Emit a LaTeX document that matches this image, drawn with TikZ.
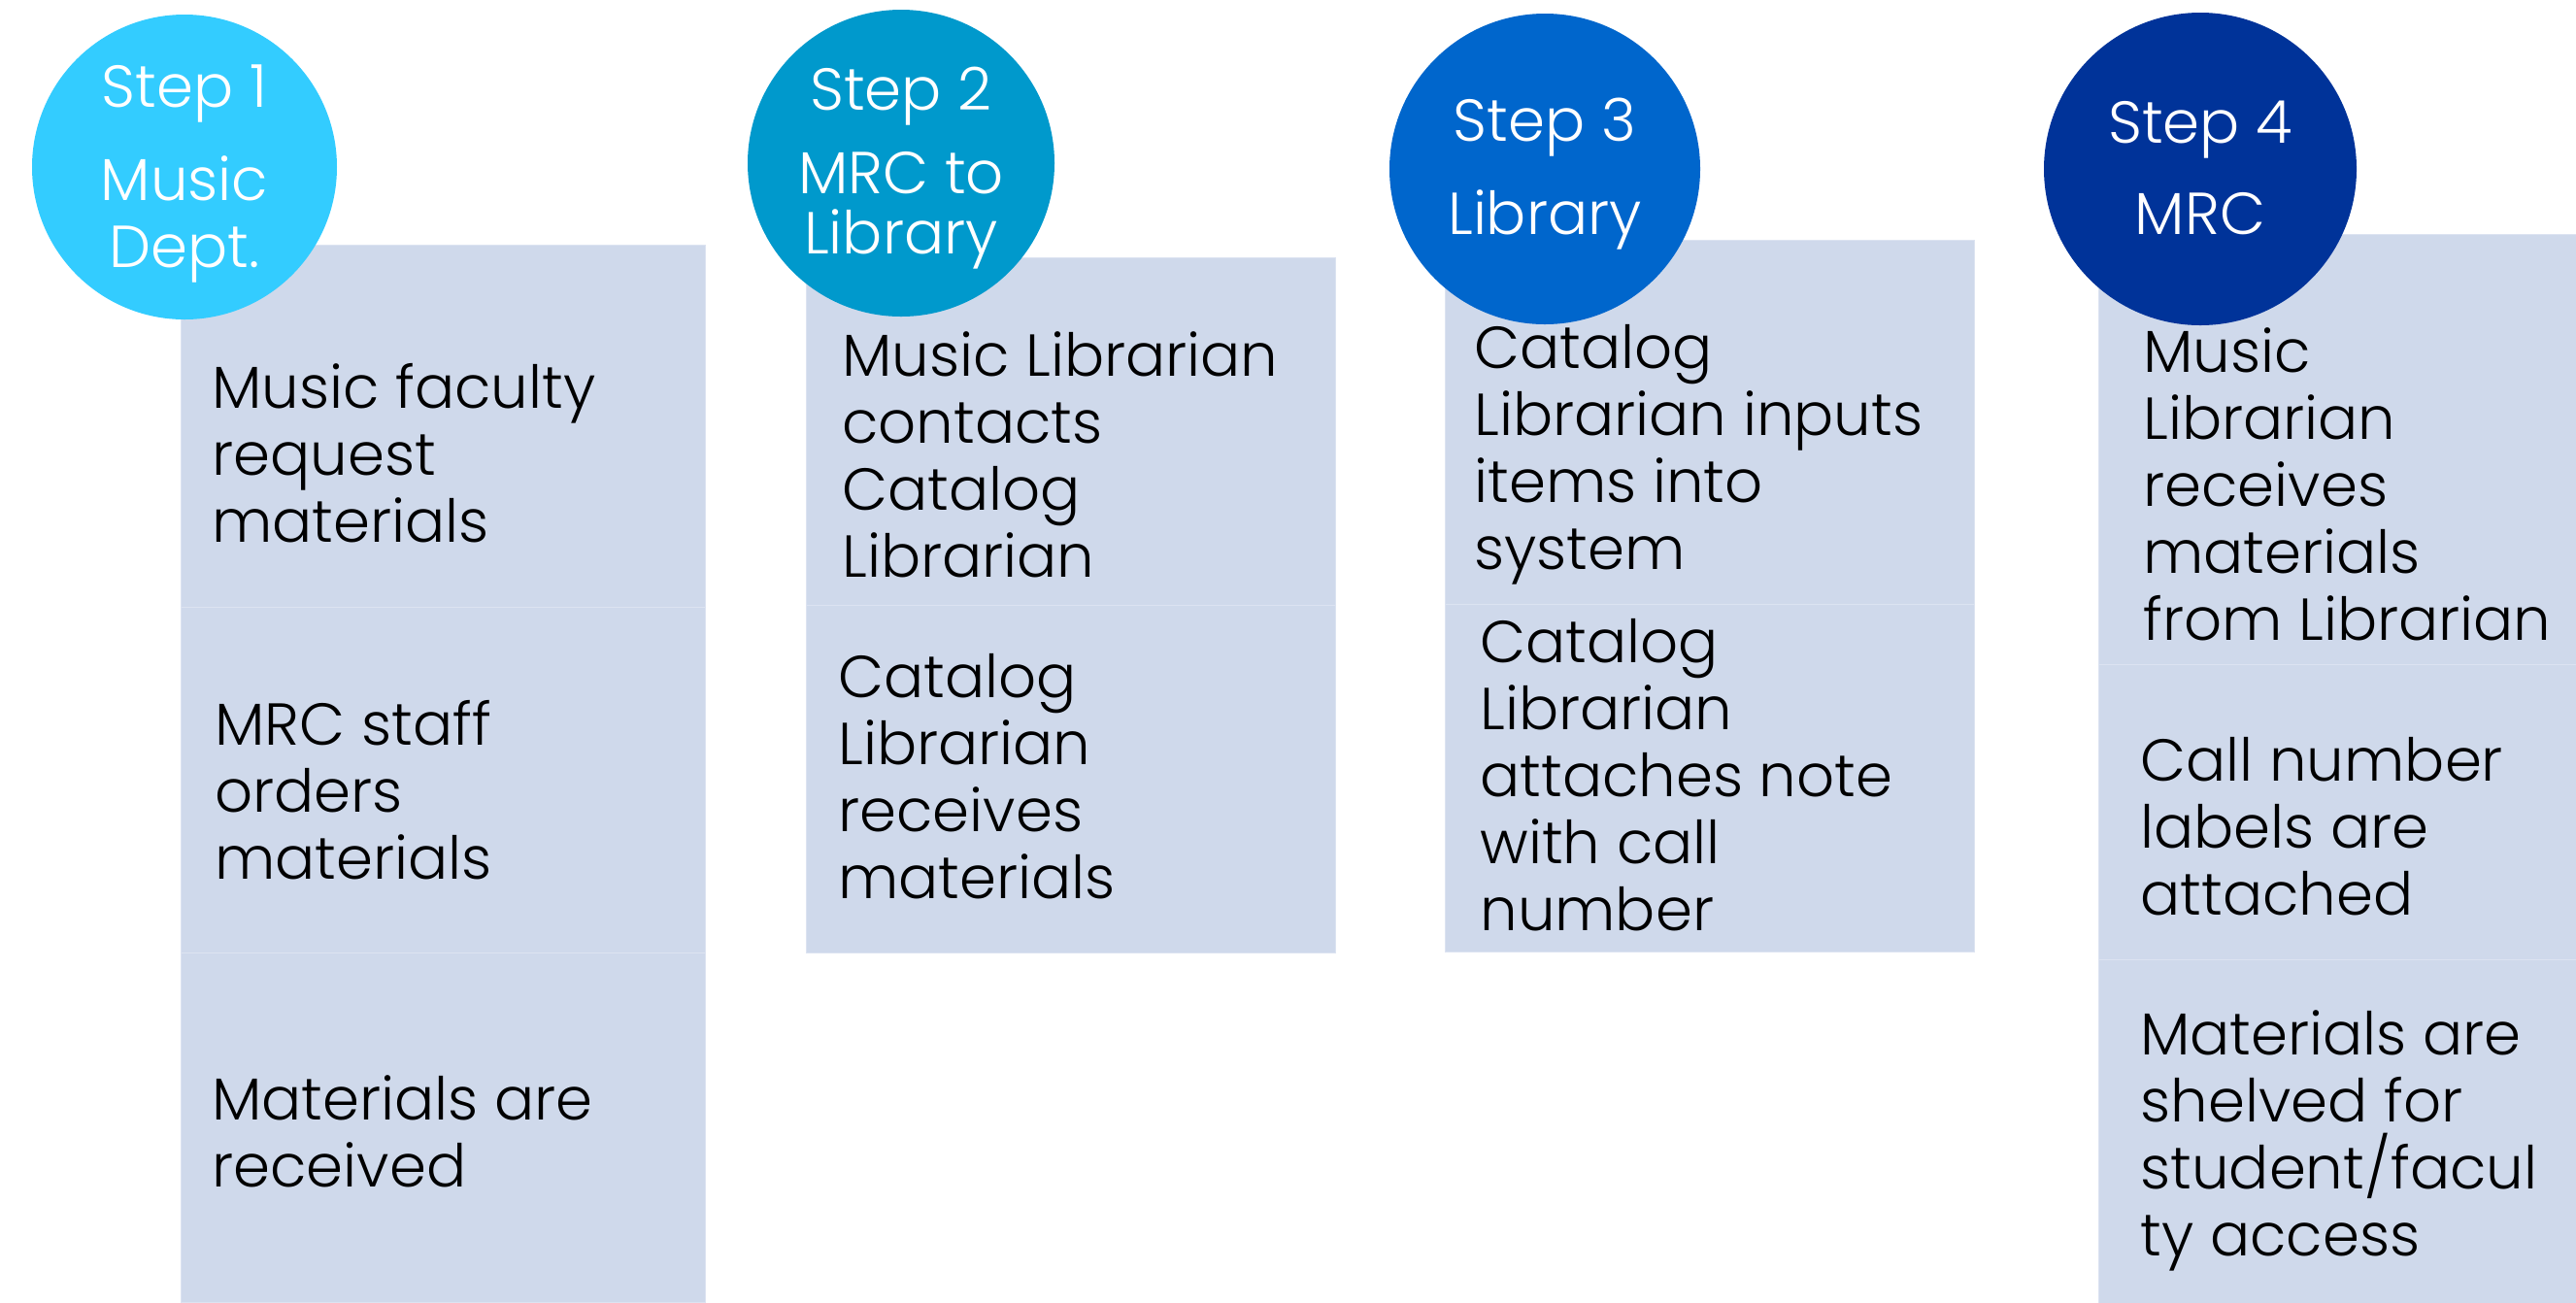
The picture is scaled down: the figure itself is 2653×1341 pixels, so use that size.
\documentclass[tikz,border=0pt]{standalone}
\usepackage{fontspec}
\setmainfont{Poppins Light}
\definecolor{cone}{HTML}{33CCFF}
\definecolor{ctwo}{HTML}{0099CC}
\definecolor{cthree}{HTML}{0066CC}
\definecolor{cfour}{HTML}{003399}
\definecolor{boxfill}{HTML}{CFD9EB}
\definecolor{boxline}{HTML}{DCE3F1}
\tikzset{
  stepbox/.style={rectangle, fill=boxfill, draw=boxline, line width=0.5pt, anchor=north west, inner sep=0pt, minimum width=#1},
  stepcircle/.style={circle, inner sep=0pt, minimum size=#1},
  bodytext/.style={anchor=base west, align=left, inner sep=0pt, text=black, font=\fontsize{30.5}{34.5}\selectfont},
  circtext/.style={anchor=base, align=center, inner sep=0pt, text=white, font=\fontsize{30.5}{34.5}\selectfont}
}
\begin{document}
\begin{tikzpicture}[x=0.5pt, y=-0.5pt]
\useasboundingbox (0,0) rectangle (2653,1341);
% column 1 boxes
\node[stepbox=270pt, minimum height=186.5pt] (b11) at (186,252) {};
\node[stepbox=270pt, minimum height=178pt] (b12) at (186,625) {};
\node[stepbox=270pt, minimum height=180pt] (b13) at (186,981) {};
% column 2 boxes
\node[stepbox=272.5pt, minimum height=179pt] (b21) at (830,265) {};
\node[stepbox=272.5pt, minimum height=179pt] (b22) at (830,623) {};
% column 3 boxes
\node[stepbox=272.5pt, minimum height=187.5pt] (b31) at (1488,247) {};
\node[stepbox=272.5pt, minimum height=179pt] (b32) at (1488,622) {};
% column 4 boxes
\node[stepbox=247pt, minimum height=221.5pt] (b41) at (2161,241) {};
\node[stepbox=247pt, minimum height=152pt] (b42) at (2161,684) {};
\node[stepbox=247pt, minimum height=177pt] (b43) at (2161,988) {};
% circles
\node[stepcircle=157pt, fill=cone] (s1) at (190,172) {};
\node[stepcircle=158pt, fill=ctwo] (s2) at (928,168) {};
\node[stepcircle=160pt, fill=cthree] (s3) at (1591,174) {};
\node[stepcircle=161pt, fill=cfour] (s4) at (2266,174) {};
% circle labels (anchored at last baseline)
\node[circtext] (l1) at (190,275) {Step 1\\[13.5pt]Music\\Dept.};
\node[circtext] (l2) at (928,261) {Step 2\\[8.25pt]MRC to\\[-3.5pt]Library};
\node[circtext] (l3) at (1591,241) {Step 3\\[13.5pt]Library};
\node[circtext] (l4) at (2266,241) {Step 4\\[12.5pt]MRC};
% box texts (anchored at last baseline)
\node[bodytext] (t11) at (218,558) {Music faculty\\request\\materials};
\node[bodytext] (t12) at (221,905) {MRC staff\\orders\\materials};
\node[bodytext] (t13) at (218,1222) {Materials are\\received};
\node[bodytext] (t21) at (867,594) {Music Librarian\\contacts\\Catalog\\Librarian};
\node[bodytext] (t22) at (863,925) {Catalog\\Librarian\\receives\\materials};
\node[bodytext] (t31) at (1518,586) {Catalog\\Librarian inputs\\items into\\system};
\node[bodytext] (t32) at (1524,958) {Catalog\\Librarian\\attaches note\\with call\\number};
\node[bodytext] (t41) at (2207,659) {Music\\Librarian\\receives\\materials\\from Librarian};
\node[bodytext] (t42) at (2204,942) {Call number\\labels are\\attached};
\node[bodytext] (t43) at (2204,1293) {Materials are\\shelved for\\student/facul\\ty access};
\end{tikzpicture}
\end{document}
